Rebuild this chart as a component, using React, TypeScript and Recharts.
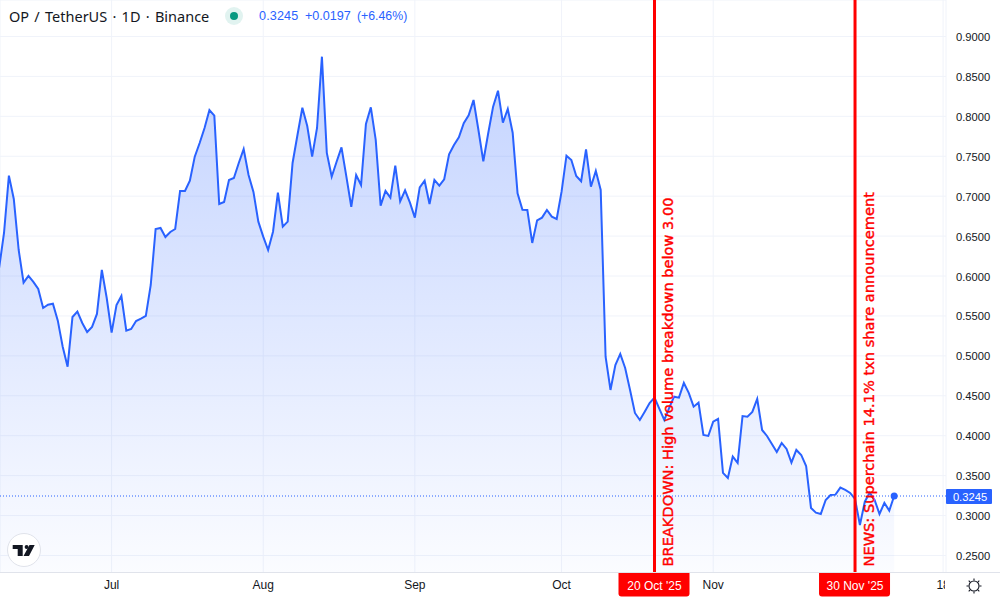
import React from 'react';
import { ComposedChart, Area, XAxis, YAxis, CartesianGrid, ReferenceLine, ReferenceDot } from 'recharts';

// days counted from 1 Jul 2025, one close per day
const firstDay = -23;
const closes = [
  0.6101, 0.6539, 0.7257, 0.6965, 0.6326, 0.5917, 0.6001, 0.5926, 0.5838, 0.5600,
  0.5641, 0.5654, 0.5441, 0.5115, 0.4865, 0.5487, 0.5554, 0.5412, 0.5299, 0.5362,
  0.5525, 0.6076, 0.5725, 0.5291, 0.5637, 0.5750, 0.5316, 0.5337, 0.5437, 0.5466,
  0.5500, 0.5888, 0.6589, 0.6602, 0.6489, 0.6552, 0.6589, 0.7065, 0.7065, 0.7194,
  0.7495, 0.7666, 0.7854, 0.8079, 0.8008, 0.6902, 0.6927, 0.7203, 0.7228, 0.7416,
  0.7591, 0.7265, 0.7053, 0.6681, 0.6493, 0.6326, 0.6555, 0.7044, 0.6618, 0.6681,
  0.7416, 0.7766, 0.8108, 0.7879, 0.7495, 0.7854, 0.8747, 0.7541, 0.7244, 0.7432,
  0.7612, 0.7244, 0.6868, 0.7265, 0.7140, 0.7904, 0.8113, 0.7704, 0.6881, 0.7065,
  0.6981, 0.7382, 0.6936, 0.7074, 0.6919, 0.6731, 0.7111, 0.7194, 0.6902, 0.7203,
  0.7131, 0.7212, 0.7525, 0.7641, 0.7738, 0.7913, 0.8013, 0.8205, 0.7829, 0.7437,
  0.7788, 0.8121, 0.8321, 0.7920, 0.8092, 0.7795, 0.7036, 0.6831, 0.6827, 0.6414,
  0.6698, 0.6731, 0.6827, 0.6743, 0.6714, 0.7056, 0.7507, 0.7453, 0.7253, 0.7187,
  0.7587, 0.7119, 0.7316, 0.7078, 0.4990, 0.4573, 0.4886, 0.5024, 0.4849, 0.4573,
  0.4285, 0.4197, 0.4301, 0.4410, 0.4477, 0.4335, 0.4197, 0.4348, 0.4489, 0.4477,
  0.4661, 0.4536, 0.4364, 0.4414, 0.4010, 0.3997, 0.4176, 0.4210, 0.3534, 0.3471,
  0.3738, 0.3659, 0.4247, 0.4239, 0.4298, 0.4460, 0.4072, 0.3997, 0.3897, 0.3797,
  0.3909, 0.3834, 0.3663, 0.3822, 0.3759, 0.3621, 0.3095, 0.3037, 0.3020, 0.3195,
  0.3258, 0.3262, 0.3350, 0.3321, 0.3283, 0.3208, 0.2882, 0.3174, 0.3287, 0.3195,
  0.3020, 0.3158, 0.3062, 0.3245,
];
const priceTicks = [0.25, 0.3, 0.35, 0.4, 0.45, 0.5, 0.55, 0.6, 0.65, 0.7, 0.75, 0.8, 0.85, 0.9];
const monthTicks = [0, 31, 62, 92, 123, 170];
const monthLabels = ['Jul', 'Aug', 'Sep', 'Oct', 'Nov', '18'];
const lastPrice = 0.3245;
const lastDay = 160;
const events = [
  { day: 111, date: "20 Oct '25", text: 'BREAKDOWN: High volume breakdown below 3.00' },
  { day: 152, date: "30 Nov '25", text: 'NEWS: Superchain 14.1% txn share announcement' },
];

const BLUE = '#2962ff';
const RED = '#ff0000';
const GRID = '#f0f3fa';
const BORDER = '#e0e3eb';
const TEXT = '#131722';
const FONT = '"Liberation Sans", Arial, sans-serif';

const data = closes.map((close, i) => ({ day: firstDay + i, close }));

function EventLabel({ viewBox, date, text }: any) {
  const x = viewBox.x;
  const bottom = viewBox.y + viewBox.height;
  return (
    <g>
      <text
        transform={`translate(${x + 18.5} ${bottom - 6}) rotate(-90)`}
        fill={RED}
        stroke={RED}
        strokeWidth={0.4}
        fontSize={14.6}
        fontFamily='"DejaVu Sans", sans-serif'
      >
        {text}
      </text>
      <path
        d={`M${x - 36} ${bottom} h71 v21 a3 3 0 0 1 -3 3 h-65 a3 3 0 0 1 -3 -3 z`}
        fill={RED}
      />
      <text x={x} y={bottom + 17} fill="#fff" fontSize={12} textAnchor="middle" fontFamily={FONT}>
        {date}
      </text>
    </g>
  );
}

function PriceLabel({ viewBox }: any) {
  const right = viewBox.x + viewBox.width;
  return (
    <g>
      <rect x={right} y={viewBox.y - 7} width={46} height={15} rx={1} fill={BLUE} />
      <text x={right + 24} y={viewBox.y + 4.5} fill="#fff" fontSize={11.2} textAnchor="middle" fontFamily={FONT}>
        {lastPrice.toFixed(4)}
      </text>
    </g>
  );
}

export default function App() {
  return (
    <div style={{ position: 'absolute', left: 0, top: 0, width: 1000, height: 600, background: '#fff', overflow: 'hidden', fontFamily: FONT }}>
      <ComposedChart
        width={1000}
        height={600}
        data={data}
        margin={{ top: 0, right: 0, bottom: 0, left: 0 }}
      >
        <defs>
          <linearGradient id="closeFill" x1="0" y1="0" x2="0" y2="1">
            <stop offset="0%" stopColor={BLUE} stopOpacity={0.28} />
            <stop offset="100%" stopColor={BLUE} stopOpacity={0.02} />
          </linearGradient>
        </defs>
        <CartesianGrid stroke={GRID} />
        <XAxis
          dataKey="day"
          type="number"
          domain={[-22.82, 170.6]}
          allowDataOverflow
          ticks={monthTicks}
          tickFormatter={(d: number) => monthLabels[monthTicks.indexOf(d)]}
          height={27.5}
          stroke={BORDER}
          tickLine={false}
          tick={{ fill: TEXT, fontSize: 12, fontFamily: FONT }}
          interval={0}
        />
        <YAxis
          orientation="right"
          domain={[0.2287, 0.9457]}
          allowDataOverflow
          ticks={priceTicks}
          tickFormatter={(v: number) => v.toFixed(4)}
          width={54}
          axisLine={false}
          tickLine={false}
          tickMargin={4}
          tick={{ fill: TEXT, fontSize: 11.2, fontFamily: FONT, dy: 0.5 }}
          interval={0}
        />
        <Area
          type="linear"
          dataKey="close"
          stroke={BLUE}
          strokeWidth={2}
          fill="url(#closeFill)"
          fillOpacity={1}
          dot={false}
          activeDot={false}
          isAnimationActive={false}
        />
        <ReferenceLine
          y={lastPrice}
          stroke={BLUE}
          strokeDasharray="1 2"
          label={(props: any) => <PriceLabel {...props} />}
        />
        <ReferenceDot x={lastDay} y={lastPrice} r={3.5} fill={BLUE} stroke={BLUE} strokeWidth={0} />
        {events.map((e) => (
          <ReferenceLine
            key={e.day}
            x={e.day}
            stroke={RED}
            strokeWidth={3}
            label={(props: any) => <EventLabel {...props} date={e.date} text={e.text} />}
          />
        ))}
      </ComposedChart>

      {/* the time scale stops at the price scale, which cuts the last label */}
      <div style={{ position: 'absolute', left: 945, top: 574, width: 55, height: 26, background: '#fff' }} />
      <div style={{ position: 'absolute', left: 946, top: 572, width: 54, height: 1, background: BORDER }} />

      <div style={{ position: 'absolute', left: 9, top: 6, fontSize: 14.5, color: TEXT, whiteSpace: 'pre', fontFamily: '"Noto Sans", sans-serif', wordSpacing: 1.5 }}>
        {'OP / TetherUS · 1D · Binance'}
      </div>
      <div style={{ position: 'absolute', left: 225, top: 7, width: 18, height: 18, borderRadius: 9, background: 'rgba(8,153,129,0.12)' }}>
        <div style={{ position: 'absolute', left: 5, top: 5, width: 8, height: 8, borderRadius: 4, background: '#089981' }} />
      </div>
      <div style={{ position: 'absolute', left: 259, top: 9, fontSize: 12.6, color: BLUE, whiteSpace: 'pre', letterSpacing: 0.15 }}>
        0.3245
      </div>
      <div style={{ position: 'absolute', left: 305, top: 9, fontSize: 12.6, color: BLUE, whiteSpace: 'pre' }}>
        +0.0197
      </div>
      <div style={{ position: 'absolute', left: 357, top: 9, fontSize: 12.3, color: BLUE, whiteSpace: 'pre' }}>
        (+6.46%)
      </div>

      <div style={{ position: 'absolute', left: 7, top: 533, width: 32, height: 32, borderRadius: 17, border: `1px solid ${BORDER}`, background: '#fff' }}>
        <svg width={32} height={32} viewBox="0 0 32 32" style={{ display: 'block' }}>
          <path d="M4.7 11h10v11h-5v-7h-5z M21.5 11h5.2l-5.7 11h-5.5z" fill={TEXT} />
          <circle cx={18.6} cy={13} r={2} fill={TEXT} />
        </svg>
      </div>
      <svg style={{ position: 'absolute', left: 965, top: 577 }} width={18} height={18} viewBox="0 0 18 18">
        <circle cx={9} cy={9} r={5} fill="none" stroke={TEXT} strokeWidth={1.1} />
        <path d="M9 1.5v2M9 14.5v2M1.5 9h2M14.5 9h2M3.7 3.7l1.4 1.4M12.9 12.9l1.4 1.4M3.7 14.3l1.4-1.4M12.9 5.1l1.4-1.4" stroke={TEXT} strokeWidth={1.1} />
      </svg>
    </div>
  );
}
